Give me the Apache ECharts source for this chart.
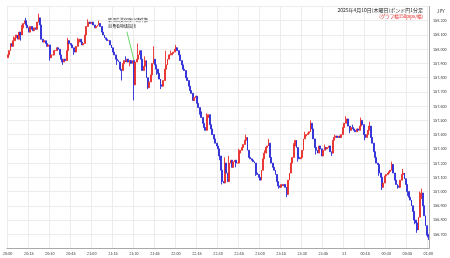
<!DOCTYPE html>
<html><head><meta charset="utf-8">
<script src="https://cdn.jsdelivr.net/npm/echarts@6/dist/echarts.min.js"></script>
<style>html,body{margin:0;padding:0;background:#fff}#c{width:450px;height:258px}</style>
</head><body><div id="c"></div>
<script>
// 1-minute closes, 20:00 .. 01:00
const closes = [
157.96,157.99,158.04,158.02,158.06,158.08,158.10,158.07,158.12,158.10,
158.15,158.18,158.20,158.17,158.15,158.12,158.16,158.14,158.13,158.15,
158.14,158.19,158.22,158.17,158.07,158.05,158.06,158.04,158.02,158.03,
157.94,157.96,157.96,157.99,157.99,158.01,158.00,157.96,157.93,157.91,
157.93,157.92,157.99,158.06,158.04,158.03,158.01,157.99,157.98,158.02,
158.05,158.07,158.05,158.03,158.04,158.10,158.16,158.18,158.19,158.18,
158.19,158.17,158.15,158.16,158.17,158.18,158.16,158.12,158.10,158.08,
158.07,158.06,158.06,158.03,158.01,157.98,157.96,157.93,157.92,157.91,
157.86,157.85,157.90,157.92,157.91,157.93,157.91,157.92,157.90,157.92,
157.75,157.91,157.93,157.96,157.99,157.93,157.85,157.88,157.92,157.80,
157.73,157.77,157.82,157.90,157.93,157.89,157.86,157.83,157.79,157.75,
157.74,157.78,157.86,157.89,157.93,157.96,157.96,157.97,157.98,158.00,
158.01,157.99,157.96,157.92,157.89,157.86,157.85,157.80,157.78,157.74,
157.71,157.69,157.64,157.66,157.67,157.62,157.59,157.56,157.52,157.48,
157.45,157.43,157.52,157.54,157.47,157.44,157.40,157.37,157.34,157.32,
157.30,157.25,157.15,157.07,157.06,157.20,157.13,157.07,157.20,157.22,
157.17,157.21,157.22,157.20,157.20,157.27,157.29,157.31,157.33,157.36,
157.38,157.29,157.24,157.23,157.22,157.21,157.20,157.13,157.12,157.10,
157.08,157.15,157.23,157.27,157.31,157.32,157.34,157.24,157.20,157.17,
157.15,157.12,157.07,157.04,157.03,157.05,157.04,157.05,157.03,156.98,
157.08,157.13,157.20,157.24,157.32,157.36,157.31,157.24,157.23,157.24,
157.29,157.37,157.39,157.40,157.41,157.42,157.48,157.44,157.37,157.31,
157.29,157.27,157.32,157.30,157.25,157.29,157.31,157.30,157.31,157.32,
157.28,157.27,157.36,157.38,157.39,157.38,157.39,157.38,157.40,157.45,
157.48,157.50,157.51,157.46,157.43,157.45,157.44,157.43,157.42,157.44,
157.43,157.46,157.50,157.47,157.40,157.38,157.40,157.43,157.46,157.38,
157.34,157.28,157.24,157.20,157.19,157.13,157.10,157.03,157.06,157.11,
157.12,157.13,157.14,157.15,157.19,157.13,157.08,157.05,157.04,157.03,
157.08,157.12,157.13,157.09,157.05,157.00,156.96,156.94,156.90,156.86,
156.80,156.78,156.73,156.82,156.95,156.99,156.90,156.83,156.76,156.70,
156.68
];
const firstOpen = 157.94;
// visible wicks beyond the body
const highIdx = [4, 10, 13, 22, 43, 50, 57, 65, 84, 93, 96, 98, 104, 113, 116, 120, 142, 155, 158, 165, 170,
  183, 186, 204, 212, 216, 226, 233, 241, 246, 252, 258, 274, 282, 294, 295];
const highVal = [158.09, 158.17, 158.22, 158.25, 158.08, 158.08, 158.21, 158.20, 157.95, 158.04, 157.90, 157.95,
  158.02, 157.99, 157.99, 158.03, 157.55, 157.24, 157.25, 157.30, 157.40,
  157.29, 157.37, 157.34, 157.42, 157.50, 157.33, 157.40, 157.53, 157.47, 157.52, 157.49, 157.21, 157.16, 157.00, 157.02];
const lowIdx = [9, 30, 39, 47, 78, 81, 87, 90, 100, 106, 109, 137, 151, 153, 163, 177, 193, 199, 207, 220,
  231, 244, 255, 265, 267, 278, 285, 290, 292, 299, 300];
const lowVal = [158.06, 157.92, 157.89, 157.96, 157.89, 157.78, 157.88, 157.64, 157.72, 157.82, 157.72, 157.54,
  157.22, 157.05, 157.17, 157.11, 157.02, 156.96, 157.21, 157.26,
  157.25, 157.41, 157.36, 157.11, 157.01, 157.02, 156.97, 156.77, 156.71, 156.69, 156.66];
const tickLabels = ['20:00','20:15','20:30','20:45','21:00','21:15','21:30','21:45','22:00','22:15','22:30','22:45',
  '23:00','23:15','23:30','23:45','11','00:15','00:30','00:45','01:00'];
const startMinute = 20 * 60;

const cats = closes.map((c, i) => {
  const m = (startMinute + i) % 1440;
  return String(Math.floor(m / 60)).padStart(2, '0') + ':' + String(m % 60).padStart(2, '0');
});
const data = closes.map((c, i) => {
  const o = i === 0 ? firstOpen : closes[i - 1];
  let hi = Math.max(o, c), lo = Math.min(o, c);
  const hk = highIdx.indexOf(i); if (hk >= 0) hi = Math.max(hi, highVal[hk]);
  const lk = lowIdx.indexOf(i); if (lk >= 0) lo = Math.min(lo, lowVal[lk]);
  return [o, c, lo, hi];
});

const chart = echarts.init(document.getElementById('c'), null, {renderer: 'canvas'});
const FONT = '"Noto Sans CJK JP", "Noto Sans", sans-serif';
chart.setOption({
  animation: false,
  backgroundColor: '#fff',
  textStyle: {fontFamily: FONT},
  title: [
    {text: '2025年4月10日(木曜日)ポンド円1分足', right: 22, top: 3,
     textStyle: {fontSize: 5, fontWeight: 'normal', color: '#222', fontFamily: FONT}},
    {text: '(グラフ幅150pips/幅)', right: 22, top: 9,
     textStyle: {fontSize: 4.5, fontWeight: 'normal', color: '#e02020', fontFamily: FONT}},
    {text: 'JPY', left: 432, top: 4,
     textStyle: {fontSize: 4.5, fontWeight: 'normal', color: '#333', fontFamily: FONT}}
  ],
  grid: {left: 1, right: 21, top: 6.5, bottom: 9.5},
  xAxis: {
    type: 'category', data: cats, boundaryGap: true,
    axisLine: {lineStyle: {color: '#aaa', width: 1}},
    axisTick: {show: false},
    axisLabel: {interval: 14, fontSize: 3.8, color: '#333', margin: 3.5, fontFamily: FONT,
      formatter: (v, idx) => tickLabels[Math.round(idx / 15)] || ''},
    splitLine: {show: true, interval: 14, lineStyle: {color: '#ececec', width: 1}}
  },
  yAxis: {
    type: 'value', position: 'right', min: 156.6, max: 158.3, interval: 0.1, scale: true,
    axisLine: {show: true, lineStyle: {color: '#aaa', width: 1}},
    axisTick: {show: false},
    axisLabel: {fontSize: 3.8, color: '#333', margin: 4, fontFamily: FONT,
      showMinLabel: false, showMaxLabel: false,
      formatter: v => v.toFixed(3)},
    splitLine: {show: true, lineStyle: {color: '#ececec', width: 1}}
  },
  graphic: [
    {type: 'text', left: 108, top: 18,
     style: {text: '新規失業保険申請件数\n消費者物価指数', fontSize: 4, lineHeight: 5.5,
       fill: '#222', fontFamily: FONT}}
  ],
  series: [{
    type: 'candlestick', data: data, barWidth: 1.4,
    itemStyle: {color: '#e8302c', color0: '#2c2cd8', borderColor: '#e8302c', borderColor0: '#2c2cd8', borderWidth: 0.9},
    markLine: {
      silent: true, symbol: 'none', animation: false,
      label: {show: false},
      lineStyle: {color: '#44cc44', width: 0.8, type: 'solid'},
      data: [[{coord: [cats[85], 158.123]}, {coord: [cats[90], 157.924]}]]
    }
  }]
});
</script></body></html>
